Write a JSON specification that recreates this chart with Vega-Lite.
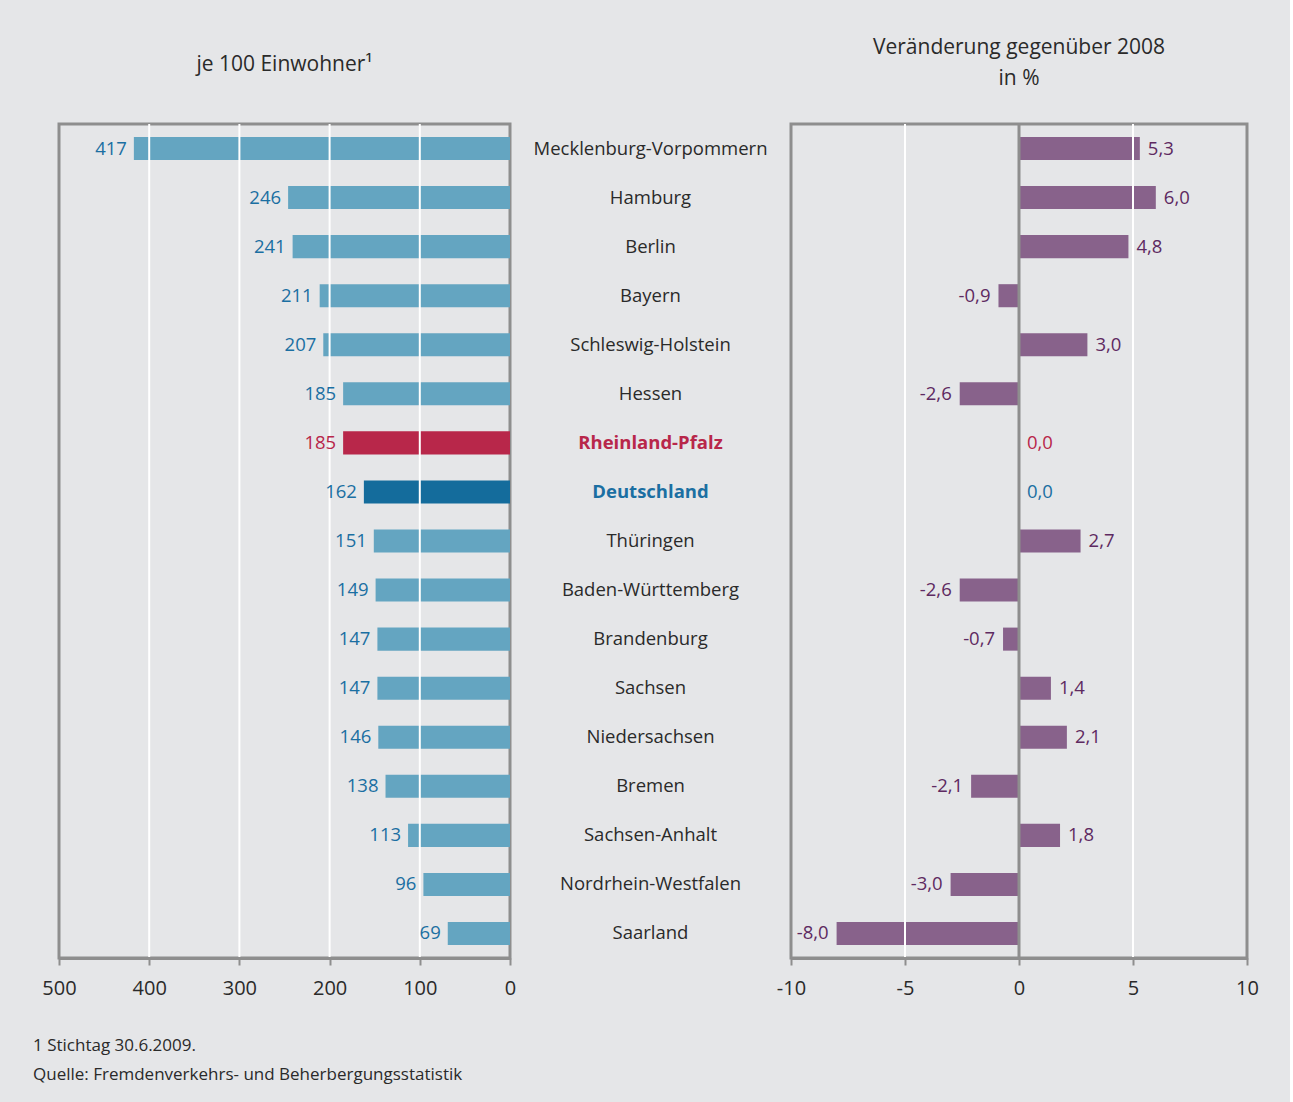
{
  "$schema": "https://vega.github.io/schema/vega-lite/v6.json",
  "background": "#e5e6e8",
  "padding": {"left": 33, "top": 35, "right": 30, "bottom": 20},
  "config": {
    "locale": {"number": {"decimal": ",", "thousands": ".", "grouping": [3], "currency": ["", " €"], "minus": "-"}},
    "font": "Open Sans",
    "view": {"stroke": "#8e8e8e", "strokeWidth": 3},
    "title": {"font": "Open Sans", "fontWeight": "normal", "color": "#2a2a2a"}
  },
  "datasets": {
    "rows": [
      {"state": "Mecklenburg-Vorpommern", "value": 417, "change": 5.3, "kind": "n"},
      {"state": "Hamburg", "value": 246, "change": 6.0, "kind": "n"},
      {"state": "Berlin", "value": 241, "change": 4.8, "kind": "n"},
      {"state": "Bayern", "value": 211, "change": -0.9, "kind": "n"},
      {"state": "Schleswig-Holstein", "value": 207, "change": 3.0, "kind": "n"},
      {"state": "Hessen", "value": 185, "change": -2.6, "kind": "n"},
      {"state": "Rheinland-Pfalz", "value": 185, "change": 0.0, "kind": "rp"},
      {"state": "Deutschland", "value": 162, "change": 0.0, "kind": "de"},
      {"state": "Thüringen", "value": 151, "change": 2.7, "kind": "n"},
      {"state": "Baden-Württemberg", "value": 149, "change": -2.6, "kind": "n"},
      {"state": "Brandenburg", "value": 147, "change": -0.7, "kind": "n"},
      {"state": "Sachsen", "value": 147, "change": 1.4, "kind": "n"},
      {"state": "Niedersachsen", "value": 146, "change": 2.1, "kind": "n"},
      {"state": "Bremen", "value": 138, "change": -2.1, "kind": "n"},
      {"state": "Sachsen-Anhalt", "value": 113, "change": 1.8, "kind": "n"},
      {"state": "Nordrhein-Westfalen", "value": 96, "change": -3.0, "kind": "n"},
      {"state": "Saarland", "value": 69, "change": -8.0, "kind": "n"}
    ],
    "gridLeft": [{"g": 100}, {"g": 200}, {"g": 300}, {"g": 400}],
    "gridRight": [{"g": -5}, {"g": 5}]
  },
  "title": {
    "text": ["1 Stichtag 30.6.2009.", "Quelle: Fremdenverkehrs- und Beherbergungsstatistik"],
    "orient": "bottom", "anchor": "start", "frame": "group",
    "fontSize": 17, "lineHeight": 29.5, "offset": 38, "dx": -26, "color": "#2a2a2a", "fontWeight": "normal"
  },
  "spacing": 0,
  "bounds": "flush",
  "hconcat": [
    {
      "width": 451, "height": 834,
      "title": {"text": "je 100 Einwohner¹", "fontSize": 21, "offset": 48, "fontWeight": "normal"},
      "layer": [
        {
          "data": {"name": "rows"},
          "mark": {"type": "bar"},
          "encoding": {
            "y": {"field": "state", "type": "nominal", "sort": null, "axis": null,
                  "scale": {"paddingInner": 0.53, "paddingOuter": 0.265}},
            "x": {"field": "value", "type": "quantitative",
                  "scale": {"domain": [0, 500], "reverse": true, "nice": false},
                  "axis": {"values": [0, 100, 200, 300, 400, 500], "title": null, "zindex": 1,
                           "grid": false,
                           "domainColor": "#8e8e8e", "domainWidth": 3,
                           "tickColor": "#8e8e8e", "tickWidth": 2, "tickSize": 7,
                           "labelFontSize": 20, "labelColor": "#2a2a2a", "labelPadding": 13, "labelFlush": false}},
            "color": {"condition": [
              {"test": "datum.kind === 'rp'", "value": "#b8274a"},
              {"test": "datum.kind === 'de'", "value": "#146c9c"}
            ], "value": "#64a5c1"}
          }
        },
        {
          "data": {"name": "gridLeft"},
          "mark": {"type": "rule", "color": "#ffffff", "strokeWidth": 2},
          "encoding": {"x": {"field": "g", "type": "quantitative"}}
        },
        {
          "data": {"name": "rows"},
          "mark": {"type": "text", "align": "right", "baseline": "middle", "dx": -7, "fontSize": 18.5},
          "encoding": {
            "y": {"field": "state", "type": "nominal", "sort": null},
            "x": {"field": "value", "type": "quantitative"},
            "text": {"field": "value", "type": "quantitative", "format": "d"},
            "color": {"condition": {"test": "datum.kind === 'rp'", "value": "#b8274a"}, "value": "#1b6fa2"}
          }
        }
      ]
    },
    {
      "width": 281, "height": 834,
      "view": {"stroke": null},
      "data": {"name": "rows"},
      "layer": [
        {
          "transform": [{"filter": "datum.kind === 'n'"}],
          "mark": {"type": "text", "align": "center", "baseline": "middle", "fontSize": 18.5, "color": "#2a2a2a"},
          "encoding": {
            "y": {"field": "state", "type": "nominal", "axis": null,
                  "scale": {"domain": ["Mecklenburg-Vorpommern", "Hamburg", "Berlin", "Bayern", "Schleswig-Holstein", "Hessen", "Rheinland-Pfalz", "Deutschland", "Thüringen", "Baden-Württemberg", "Brandenburg", "Sachsen", "Niedersachsen", "Bremen", "Sachsen-Anhalt", "Nordrhein-Westfalen", "Saarland"],
                            "paddingInner": 0.53, "paddingOuter": 0.265}},
            "text": {"field": "state"}
          }
        },
        {
          "transform": [{"filter": "datum.kind !== 'n'"}],
          "mark": {"type": "text", "align": "center", "baseline": "middle", "fontSize": 18.5, "fontWeight": "bold"},
          "encoding": {
            "y": {"field": "state", "type": "nominal", "axis": null},
            "text": {"field": "state"},
            "color": {"condition": {"test": "datum.kind === 'rp'", "value": "#b8274a"}, "value": "#1b6fa2"}
          }
        }
      ]
    },
    {
      "width": 456, "height": 834,
      "title": {"text": ["Veränderung gegenüber 2008", "in %"], "fontSize": 21, "lineHeight": 31, "offset": 34, "fontWeight": "normal"},
      "layer": [
        {
          "data": {"name": "rows"},
          "mark": {"type": "bar", "color": "#88628b"},
          "encoding": {
            "y": {"field": "state", "type": "nominal", "sort": null, "axis": null,
                  "scale": {"paddingInner": 0.53, "paddingOuter": 0.265}},
            "x": {"field": "change", "type": "quantitative",
                  "scale": {"domain": [-10, 10], "nice": false},
                  "axis": {"values": [-10, -5, 0, 5, 10], "title": null, "zindex": 1,
                           "grid": false,
                           "domainColor": "#8e8e8e", "domainWidth": 3,
                           "tickColor": "#8e8e8e", "tickWidth": 2, "tickSize": 7,
                           "labelFontSize": 20, "labelColor": "#2a2a2a", "labelPadding": 13, "labelFlush": false,
                           "format": "d"}}
          }
        },
        {
          "data": {"name": "gridRight"},
          "mark": {"type": "rule", "color": "#ffffff", "strokeWidth": 2},
          "encoding": {"x": {"field": "g", "type": "quantitative"}}
        },
        {
          "data": {"values": [{"g": 0}]},
          "mark": {"type": "rule", "color": "#8e8e8e", "strokeWidth": 3},
          "encoding": {"x": {"field": "g", "type": "quantitative"}}
        },
        {
          "data": {"name": "rows"},
          "transform": [{"filter": "datum.change > 0"}],
          "mark": {"type": "text", "align": "left", "baseline": "middle", "dx": 8, "fontSize": 18.5, "color": "#5e2a61"},
          "encoding": {
            "y": {"field": "state", "type": "nominal", "sort": null},
            "x": {"field": "change", "type": "quantitative"},
            "text": {"field": "change", "type": "quantitative", "format": ".1f"}
          }
        },
        {
          "data": {"name": "rows"},
          "transform": [{"filter": "datum.change < 0"}],
          "mark": {"type": "text", "align": "right", "baseline": "middle", "dx": -8, "fontSize": 18.5, "color": "#5e2a61"},
          "encoding": {
            "y": {"field": "state", "type": "nominal", "sort": null},
            "x": {"field": "change", "type": "quantitative"},
            "text": {"field": "change", "type": "quantitative", "format": ".1f"}
          }
        },
        {
          "data": {"name": "rows"},
          "transform": [{"filter": "datum.change === 0"}],
          "mark": {"type": "text", "align": "left", "baseline": "middle", "dx": 8, "fontSize": 18.5},
          "encoding": {
            "y": {"field": "state", "type": "nominal", "sort": null},
            "x": {"field": "change", "type": "quantitative"},
            "text": {"field": "change", "type": "quantitative", "format": ".1f"},
            "color": {"condition": {"test": "datum.kind === 'rp'", "value": "#b8274a"}, "value": "#1b6fa2"}
          }
        }
      ]
    }
  ]
}
